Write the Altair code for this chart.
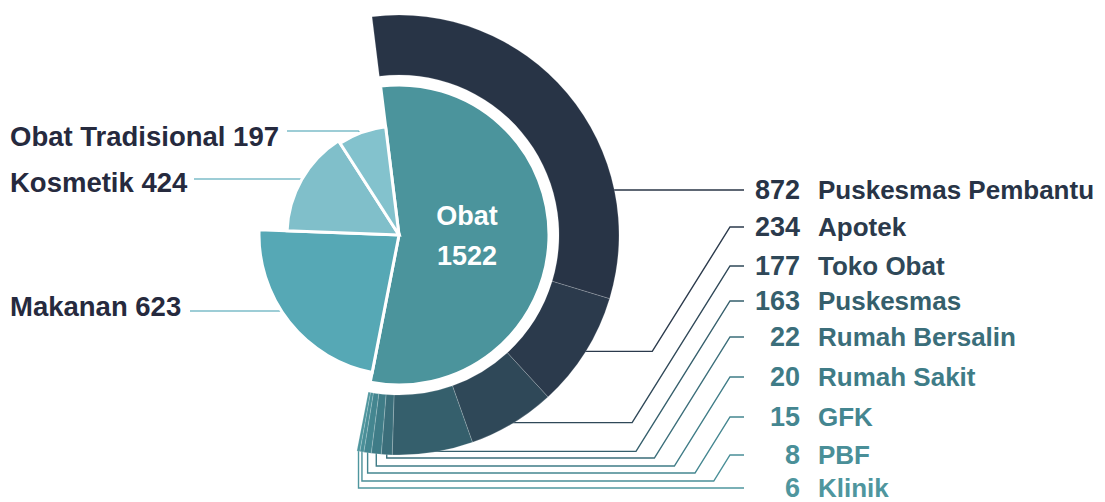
import math
import altair as alt
import pandas as pd

# ---------------- data ----------------
inner_labels = ["Obat", "Makanan", "Kosmetik", "Obat Tradisional"]
inner_values = [1522, 623, 424, 197]
outlet_labels = ["Puskesmas Pembantu", "Apotek", "Toko Obat", "Puskesmas",
                 "Rumah Bersalin", "Rumah Sakit", "GFK", "PBF", "Klinik"]
outlet_values = [872, 234, 177, 163, 22, 20, 15, 8, 6]

# ---------------- styles ----------------
inner_colors = ["#4B949C", "#56A8B5", "#80BFCA", "#83C2CD"]
inner_radii = [150, 140, 112, 109]
outlet_colors = ["#283446", "#2B3A4C", "#2F4858", "#355F6C", "#3B6E7A",
                 "#3F7C87", "#448690", "#4A8F98", "#4F969E"]
left_text_color = "#262A3E"
left_line_color = "#7DBDC9"
FONT = "Liberation Sans"

# ---------------- layout (page pixel coordinates) ----------------
W, H = 1089, 494
CX, CY = 399, 235
R_IN, R_OUT = 160, 220
right_label_y = [190, 227, 266, 301, 337, 377, 417, 455, 488]
right_bus_y = [None, None, None, None, 458, 466, 473, 481, 488]
left_label_y = [None, 308, 184, 138]
left_line_y = [None, 311, 179, 131]
left_text_end = [None, 190, 194, 287]
left_text_x = 10
num_x, name_x = 800, 818
tick_x0, tick_x1 = 730, 744
SLOPE = 1.6

xs = alt.Scale(domain=[8, 8 + W])
ys = alt.Scale(domain=[8, 8 + H], reverse=True)

# angles: Obat slice centred at ~92 degrees (clockwise from 12 o'clock)
total = sum(inner_values)
span_obat = 2 * math.pi * inner_values[0] / total
a0 = math.radians(92) - span_obat / 2 + 2 * math.pi

# ---------------- arcs ----------------
inner_df = pd.DataFrame({
    "label": inner_labels, "value": inner_values, "idx": range(len(inner_values)),
    "color": inner_colors, "r": inner_radii, "cx": CX, "cy": CY,
})
ring_df = pd.DataFrame({
    "label": outlet_labels, "value": outlet_values, "idx": range(len(outlet_values)),
    "color": outlet_colors, "cx": CX, "cy": CY,
})

ring = alt.Chart(ring_df).mark_arc(
    outerRadius=R_OUT, innerRadius=R_IN, stroke="white", strokeWidth=0.6, strokeOpacity=0.3
).encode(
    x=alt.X("cx:Q", scale=xs, axis=None),
    y=alt.Y("cy:Q", scale=ys, axis=None),
    theta=alt.Theta("value:Q", stack=True,
                    scale=alt.Scale(domain=[0, sum(outlet_values)], range=[a0, a0 + span_obat])),
    order=alt.Order("idx:Q"),
    color=alt.Color("color:N", scale=None),
)

pie = alt.Chart(inner_df).transform_window(
    cum="sum(value)", sort=[alt.SortField("idx", order="ascending")], frame=[None, 0]
).transform_calculate(
    start="datum.cum - datum.value"
).mark_arc(stroke="white", strokeWidth=3).encode(
    x=alt.X("cx:Q", scale=xs, axis=None),
    y=alt.Y("cy:Q", scale=ys, axis=None),
    theta=alt.Theta("start:Q", stack=False,
                    scale=alt.Scale(domain=[0, total], range=[a0, a0 + 2 * math.pi])),
    theta2="cum:Q",
    radius=alt.Radius("r:Q", scale=None),
    color=alt.Color("color:N", scale=None),
)

# ---------------- leader lines (anchored at data angles) ----------------
rows = []
def add_line(lid, pts, col):
    for k, (px, py) in enumerate(pts):
        rows.append({"id": lid, "seq": k, "x": px, "y": py, "col": col})

ring_total = sum(outlet_values)
cum = 0
for i, v in enumerate(outlet_values):
    mid = a0 + span_obat * (cum + v / 2) / ring_total
    cum += v
    ly = right_label_y[i]
    if i == 0:
        ex = CX + math.sqrt((R_OUT - 1) ** 2 - (ly - CY) ** 2)
        pts = [(ex - 4, ly), (tick_x1, ly)]
    else:
        axp = CX + (R_OUT - 1) * math.sin(mid)
        ayp = CY - (R_OUT - 1) * math.cos(mid)
        by = right_bus_y[i] if right_bus_y[i] is not None else ayp
        knee = tick_x0 - (by - ly) / SLOPE
        pts = [(axp, ayp), (axp, by), (knee, by), (tick_x0, ly), (tick_x1, ly)]
    add_line("o%d" % i, pts, outlet_colors[i])

cum = 0
for i, v in enumerate(inner_values):
    mid = a0 + 2 * math.pi * (cum + v / 2) / total
    cum += v
    if left_line_y[i] is None:
        continue
    rr = inner_radii[i] - 4
    axp = CX + rr * math.sin(mid)
    ayp = CY - rr * math.cos(mid)
    ly = left_line_y[i]
    add_line("i%d" % i, [(axp, ayp), (axp - 5, ly), (left_text_end[i], ly)], left_line_color)

lines_df = pd.DataFrame(rows)

lines = alt.Chart(lines_df).mark_line(strokeWidth=1.4).encode(
    x=alt.X("x:Q", scale=xs, axis=None),
    y=alt.Y("y:Q", scale=ys, axis=None),
    detail="id:N",
    order=alt.Order("seq:Q"),
    color=alt.Color("col:N", scale=None),
)

# ---------------- texts ----------------
left_df = pd.DataFrame({
    "t": ["%s %d" % (l, v) for l, v in zip(inner_labels[1:], inner_values[1:])],
    "x": left_text_x, "y": left_label_y[1:],
})
left_text = alt.Chart(left_df).mark_text(
    align="left", baseline="middle", font=FONT, fontSize=27.5, fontWeight="bold",
    color=left_text_color,
).encode(x=alt.X("x:Q", scale=xs, axis=None), y=alt.Y("y:Q", scale=ys, axis=None), text="t:N")

right_df = pd.DataFrame({
    "num": [str(v) for v in outlet_values], "name": outlet_labels,
    "xn": num_x, "xl": name_x, "y": [y + 1 for y in right_label_y], "col": outlet_colors,
})
right_num = alt.Chart(right_df).mark_text(
    align="right", baseline="middle", font=FONT, fontSize=27, fontWeight="bold",
).encode(x=alt.X("xn:Q", scale=xs, axis=None), y=alt.Y("y:Q", scale=ys, axis=None),
         text="num:N", color=alt.Color("col:N", scale=None))
right_name = alt.Chart(right_df).mark_text(
    align="left", baseline="middle", font=FONT, fontSize=26, fontWeight="bold",
).encode(x=alt.X("xl:Q", scale=xs, axis=None), y=alt.Y("y:Q", scale=ys, axis=None),
         text="name:N", color=alt.Color("col:N", scale=None))

center_df = pd.DataFrame({
    "t": [inner_labels[0], str(inner_values[0])], "x": [467, 467], "y": [217, 257],
})
center_text = alt.Chart(center_df).mark_text(
    align="center", baseline="middle", font=FONT, fontSize=27, fontWeight="bold", color="white",
).encode(x=alt.X("x:Q", scale=xs, axis=None), y=alt.Y("y:Q", scale=ys, axis=None), text="t:N")

chart = alt.layer(lines, ring, pie, center_text, left_text, right_num, right_name).resolve_scale(
    theta="independent", radius="independent", color="independent"
).properties(
    width=W, height=H, padding=0, autosize=alt.AutoSizeParams(type="none"),
).configure_view(stroke=None)

chart.save("out.html", embed_options={"renderer": "svg", "actions": False})
